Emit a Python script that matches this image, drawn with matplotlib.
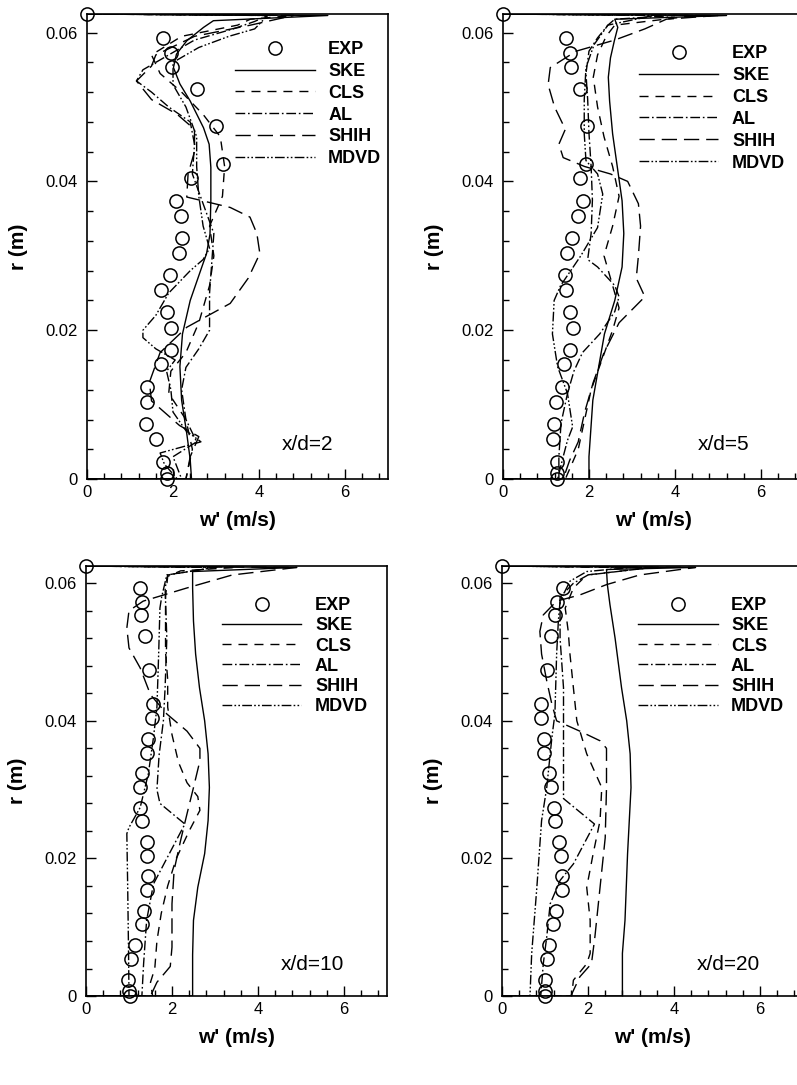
import matplotlib
matplotlib.use("Agg")
from matplotlib import pyplot as plt
from matplotlib.ticker import MultipleLocator, FormatStrFormatter

plt.rcParams['font.family'] = ['Liberation Sans', 'DejaVu Sans']
plt.rcParams['lines.scale_dashes'] = False

# radial stations of the measurements (shared by all four stations)
r_exp = [0.0625, 0.0593, 0.0573, 0.0554, 0.0524, 0.0474, 0.0424, 0.0404, 0.0373, 0.0353,
         0.0324, 0.0304, 0.0274, 0.0254, 0.0224, 0.0203, 0.0174, 0.0154, 0.0124, 0.0104,
         0.0074, 0.0054, 0.0023, 0.0008, 0.0]
w_exp_2 = [0, 1.77, 1.95, 1.98, 2.55, 3.00, 3.17, 2.41, 2.07, 2.18, 2.22, 2.14, 1.93, 1.72,
           1.85, 1.95, 1.95, 1.71, 1.39, 1.40, 1.37, 1.60, 1.77, 1.85, 1.85]
w_exp_5 = [0, 1.47, 1.56, 1.58, 1.79, 1.96, 1.93, 1.79, 1.85, 1.74, 1.60, 1.48, 1.44, 1.47,
           1.56, 1.63, 1.56, 1.42, 1.37, 1.23, 1.19, 1.17, 1.26, 1.26, 1.26]
w_exp_10 = [0, 1.26, 1.30, 1.27, 1.37, 1.47, 1.57, 1.54, 1.45, 1.41, 1.30, 1.26, 1.26, 1.31,
            1.41, 1.41, 1.45, 1.41, 1.34, 1.30, 1.14, 1.04, 0.98, 1.00, 1.02]
w_exp_20 = [0, 1.42, 1.27, 1.24, 1.15, 1.04, 0.91, 0.91, 0.98, 0.98, 1.09, 1.13, 1.21, 1.24,
            1.33, 1.37, 1.40, 1.39, 1.25, 1.19, 1.09, 1.04, 1.01, 1.00, 1.00]

# x/d = 2
r_ske_2 = [0, 0, 0.0026, 0.0061, 0.0106, 0.0151, 0.0195, 0.0240, 0.0285, 0.0303, 0.0329, 0.0374,
           0.0419, 0.0450, 0.0472, 0.0508, 0.0531, 0.0553, 0.0571, 0.0589, 0.0607, 0.0616, 0.0623, 0.0625]
w_ske_2 = [0, 2.43, 2.40, 2.32, 2.20, 2.16, 2.22, 2.40, 2.67, 2.78, 2.86, 2.88,
           2.88, 2.84, 2.71, 2.40, 2.16, 2.01, 2.08, 2.32, 2.71, 2.94, 5.60, 0]
r_cls_2 = [0, 0, 0.0040, 0.0080, 0.0115, 0.0145, 0.0170, 0.0210, 0.0260, 0.0300, 0.0340, 0.0380,
           0.0420, 0.0460, 0.0490, 0.0520, 0.0545, 0.0570, 0.0595, 0.0610, 0.0618, 0.0623, 0.0625]
w_cls_2 = [0, 2.30, 2.45, 2.30, 1.90, 1.95, 2.30, 2.60, 2.85, 2.95, 2.85, 3.15,
           3.20, 3.10, 2.70, 2.20, 1.70, 1.50, 2.20, 3.50, 3.80, 4.80, 0]
r_al_2 = [0, 0, 0.0030, 0.0050, 0.0080, 0.0120, 0.0150, 0.0175, 0.0200, 0.0250, 0.0290, 0.0330,
          0.0370, 0.0410, 0.0450, 0.0480, 0.0500, 0.0520, 0.0535, 0.0550, 0.0570, 0.0590, 0.0605,
          0.0615, 0.0623, 0.0625]
w_al_2 = [0, 2.20, 2.00, 2.55, 2.30, 2.20, 2.30, 2.60, 2.85, 2.85, 2.90, 2.95,
          2.70, 2.45, 2.50, 2.40, 1.90, 1.50, 1.15, 1.30, 1.90, 2.50, 3.40,
          3.90, 4.20, 0]
r_shih_2 = [0, 0, 0.0030, 0.0057, 0.0072, 0.0105, 0.0130, 0.0170, 0.0204, 0.0236, 0.0270, 0.0303,
            0.0330, 0.0352, 0.0365, 0.0379, 0.0410, 0.0440, 0.0470, 0.0490, 0.0510, 0.0535, 0.0555,
            0.0570, 0.0595, 0.0610, 0.0623, 0.0625]
w_shih_2 = [0, 2.30, 2.40, 2.60, 2.15, 1.50, 1.45, 1.70, 2.32, 3.33, 3.75, 4.02,
            3.95, 3.79, 3.33, 2.32, 2.35, 2.50, 2.50, 2.10, 1.50, 1.15, 1.50,
            1.60, 2.50, 3.80, 4.80, 0]
r_mdvd_2 = [0, 0, 0.0020, 0.0035, 0.0050, 0.0065, 0.0090, 0.0120, 0.0145, 0.0160, 0.0175, 0.0190,
            0.0200, 0.0220, 0.0250, 0.0280, 0.0295, 0.0310, 0.0340, 0.0380, 0.0420, 0.0460, 0.0500,
            0.0530, 0.0560, 0.0580, 0.0595, 0.0605, 0.0623, 0.0625]
w_mdvd_2 = [0, 2.10, 1.80, 1.70, 2.65, 2.30, 2.00, 1.95, 1.85, 2.05, 1.60, 1.30,
            1.30, 1.60, 1.90, 2.40, 2.70, 2.85, 2.70, 2.60, 2.55, 2.55, 2.30,
            2.00, 2.00, 2.60, 3.30, 3.90, 4.20, 0]

# x/d = 5
r_ske_5 = [0, 0, 0.0030, 0.0106, 0.0195, 0.0240, 0.0285, 0.0330, 0.0374, 0.0419, 0.0464, 0.0508,
           0.0540, 0.0566, 0.0589, 0.0607, 0.0618, 0.0623, 0.0625]
w_ske_5 = [0, 2.00, 2.00, 2.09, 2.36, 2.60, 2.77, 2.81, 2.77, 2.66, 2.55, 2.48,
           2.45, 2.50, 2.59, 2.67, 2.60, 5.20, 0]
r_cls_5 = [0, 0, 0.0040, 0.0080, 0.0120, 0.0160, 0.0200, 0.0230, 0.0260, 0.0300, 0.0340, 0.0380,
           0.0420, 0.0460, 0.0500, 0.0540, 0.0570, 0.0595, 0.0610, 0.0623, 0.0625]
w_cls_5 = [0, 1.45, 1.75, 1.90, 2.05, 2.30, 2.55, 2.70, 2.55, 2.35, 2.55, 2.70,
           2.55, 2.35, 2.20, 2.10, 2.20, 2.40, 2.60, 4.50, 0]
r_al_5 = [0, 0, 0.0030, 0.0075, 0.0115, 0.0145, 0.0170, 0.0195, 0.0225, 0.0245, 0.0260, 0.0285,
          0.0295, 0.0330, 0.0375, 0.0420, 0.0465, 0.0510, 0.0545, 0.0575, 0.0593, 0.0610, 0.0618,
          0.0623, 0.0625]
w_al_5 = [0, 1.30, 1.30, 1.35, 1.50, 1.65, 1.85, 2.25, 2.60, 2.70, 2.60, 2.20,
          1.97, 2.05, 2.08, 2.05, 2.00, 1.97, 1.93, 2.00, 2.20, 2.44, 2.60,
          4.00, 0]
r_shih_5 = [0, 0, 0.0025, 0.0050, 0.0090, 0.0130, 0.0170, 0.0210, 0.0245, 0.0270, 0.0300, 0.0340,
            0.0370, 0.0400, 0.0410, 0.0420, 0.0432, 0.0450, 0.0470, 0.0500, 0.0530, 0.0553, 0.0575,
            0.0590, 0.0605, 0.0618, 0.0623, 0.0625]
w_shih_5 = [0, 1.40, 1.55, 1.75, 1.90, 2.10, 2.35, 2.70, 3.30, 3.10, 3.15, 3.20,
            3.15, 2.90, 2.50, 1.90, 1.40, 1.30, 1.45, 1.20, 1.05, 1.10, 1.70,
            2.60, 3.30, 3.80, 5.00, 0]
r_mdvd_5 = [0, 0, 0.0030, 0.0052, 0.0070, 0.0115, 0.0151, 0.0195, 0.0240, 0.0260, 0.0300, 0.0338,
            0.0383, 0.0410, 0.0428, 0.0464, 0.0510, 0.0553, 0.0584, 0.0610, 0.0623, 0.0625]
w_mdvd_5 = [0, 1.27, 1.40, 1.50, 1.62, 1.50, 1.27, 1.15, 1.19, 1.34, 1.81, 2.20,
            2.32, 2.20, 1.93, 1.89, 1.89, 1.93, 2.12, 2.44, 3.50, 0]

# x/d = 10
r_ske_10 = [0, 0, 0.0060, 0.0110, 0.0158, 0.0207, 0.0255, 0.0303, 0.0352, 0.0400, 0.0448, 0.0497,
            0.0545, 0.0593, 0.0617, 0.0623, 0.0625]
w_ske_10 = [0, 2.48, 2.48, 2.50, 2.60, 2.76, 2.84, 2.87, 2.84, 2.76, 2.64, 2.55,
            2.50, 2.48, 2.48, 4.90, 0]
r_cls_10 = [0, 0, 0.0020, 0.0040, 0.0080, 0.0120, 0.0160, 0.0200, 0.0240, 0.0270, 0.0290, 0.0310,
            0.0340, 0.0380, 0.0420, 0.0460, 0.0500, 0.0540, 0.0580, 0.0610, 0.0618, 0.0623, 0.0625]
w_cls_10 = [0, 1.55, 1.50, 1.60, 1.65, 1.75, 1.90, 2.10, 2.40, 2.65, 2.60, 2.35,
            2.15, 2.00, 1.90, 1.90, 1.85, 1.85, 1.85, 1.90, 2.20, 3.50, 0]
r_al_10 = [0, 0, 0.0047, 0.0110, 0.0163, 0.0200, 0.0250, 0.0280, 0.0300, 0.0350, 0.0400, 0.0448,
           0.0520, 0.0593, 0.0612, 0.0623, 0.0625]
w_al_10 = [0, 1.30, 1.34, 1.41, 1.57, 1.88, 2.30, 1.72, 1.65, 1.70, 1.80, 1.84,
           1.88, 1.84, 1.90, 3.00, 0]
r_shih_10 = [0, 0, 0.0020, 0.0043, 0.0071, 0.0134, 0.0183, 0.0226, 0.0265, 0.0303, 0.0342, 0.0360,
             0.0385, 0.0410, 0.0438, 0.0477, 0.0506, 0.0535, 0.0560, 0.0574, 0.0593, 0.0612,
             0.0623, 0.0625]
w_shih_10 = [0, 1.50, 1.65, 1.96, 2.00, 2.00, 2.05, 2.20, 2.35, 2.50, 2.65, 2.65,
             2.35, 1.88, 1.50, 1.26, 1.00, 0.95, 1.00, 1.33, 2.34, 3.40,
             4.90, 0]
r_mdvd_10 = [0, 0, 0.0062, 0.0158, 0.0236, 0.0245, 0.0274, 0.0323, 0.0376, 0.0420, 0.0497, 0.0564,
             0.0580, 0.0612, 0.0623, 0.0625]
w_mdvd_10 = [0, 1.00, 0.99, 0.97, 0.95, 1.00, 1.26, 1.45, 1.57, 1.65, 1.69, 1.72,
             1.76, 1.88, 3.00, 0]

# x/d = 20
r_ske_20 = [0, 0, 0.0062, 0.0110, 0.0207, 0.0303, 0.0352, 0.0400, 0.0448, 0.0520, 0.0569, 0.0598,
            0.0620, 0.0623, 0.0625]
w_ske_20 = [0, 2.80, 2.80, 2.86, 2.92, 3.00, 2.98, 2.90, 2.78, 2.63, 2.51, 2.45,
            2.43, 4.50, 0]
r_cls_20 = [0, 0, 0.0023, 0.0047, 0.0062, 0.0110, 0.0158, 0.0207, 0.0255, 0.0303, 0.0352, 0.0400,
            0.0448, 0.0497, 0.0530, 0.0564, 0.0593, 0.0612, 0.0623, 0.0625]
w_cls_20 = [0, 1.62, 1.66, 1.97, 2.05, 2.05, 1.97, 2.12, 2.28, 2.32, 1.97, 1.74,
            1.66, 1.58, 1.54, 1.47, 1.66, 1.97, 3.50, 0]
r_al_20 = [0, 0, 0.0047, 0.0086, 0.0134, 0.0168, 0.0192, 0.0250, 0.0287, 0.0352, 0.0448, 0.0520,
           0.0580, 0.0600, 0.0612, 0.0623, 0.0625]
w_al_20 = [0, 0.90, 0.96, 1.04, 1.12, 1.35, 1.66, 2.15, 1.43, 1.43, 1.43, 1.35,
           1.35, 1.66, 2.00, 3.50, 0]
r_shih_20 = [0, 0, 0.0028, 0.0047, 0.0086, 0.0158, 0.0230, 0.0303, 0.0360, 0.0371, 0.0385, 0.0400,
             0.0424, 0.0458, 0.0497, 0.0530, 0.0554, 0.0574, 0.0583, 0.0598, 0.0612, 0.0623, 0.0625]
w_shih_20 = [0, 1.60, 1.81, 2.08, 2.16, 2.28, 2.40, 2.43, 2.43, 2.28, 1.81, 1.27,
             1.16, 1.04, 0.92, 0.88, 0.96, 1.27, 1.81, 2.43, 3.20, 4.50, 0]
r_mdvd_20 = [0, 0, 0.0062, 0.0158, 0.0255, 0.0303, 0.0376, 0.0410, 0.0497, 0.0545, 0.0574, 0.0603,
             0.0617, 0.0623, 0.0625]
w_mdvd_20 = [0, 0.65, 0.69, 0.81, 0.92, 1.04, 1.16, 1.23, 1.27, 1.31, 1.35, 1.58,
             1.97, 3.00, 0]

models = ['SKE', 'CLS', 'AL', 'SHIH', 'MDVD']
styles = {
    'SKE': '-',
    'CLS': (0, (6.5, 5)),
    'AL': (0, (7, 2, 1.2, 2)),
    'SHIH': (0, (11, 5)),
    'MDVD': (0, (7, 1.6, 1.2, 1.6, 1.2, 1.6)),
}

panels = [
    # rect, label, exp, curves, legend anchor, legend row spacing
    ([0.1092, 0.5585, 0.3776, 0.4286], 'x/d=2', w_exp_2,
     [(w_ske_2, r_ske_2), (w_cls_2, r_cls_2), (w_al_2, r_al_2), (w_shih_2, r_shih_2), (w_mdvd_2, r_mdvd_2)],
     (0.492, 0.942), 0.27),
    ([0.6311, 0.5585, 0.3776, 0.4286], 'x/d=5', w_exp_5,
     [(w_ske_5, r_ske_5), (w_cls_5, r_cls_5), (w_al_5, r_al_5), (w_shih_5, r_shih_5), (w_mdvd_5, r_mdvd_5)],
     (0.452, 0.933), 0.27),
    ([0.1079, 0.0820, 0.3776, 0.3963], 'x/d=10', w_exp_10,
     [(w_ske_10, r_ske_10), (w_cls_10, r_cls_10), (w_al_10, r_al_10), (w_shih_10, r_shih_10), (w_mdvd_10, r_mdvd_10)],
     (0.452, 0.928), 0.18),
    ([0.6299, 0.0820, 0.3776, 0.3963], 'x/d=20', w_exp_20,
     [(w_ske_20, r_ske_20), (w_cls_20, r_cls_20), (w_al_20, r_al_20), (w_shih_20, r_shih_20), (w_mdvd_20, r_mdvd_20)],
     (0.452, 0.928), 0.18),
]

fig = plt.figure(figsize=(7.97, 10.85), dpi=100)

for rect, label, w_exp, curves, anchor, spacing in panels:
    ax = fig.add_axes(rect)
    ax.plot(w_exp, r_exp, linestyle='none', marker='o', markersize=9.5,
            markerfacecolor='none', markeredgecolor='black', markeredgewidth=1.1,
            clip_on=False, label='EXP', zorder=3)
    for name, (w, r) in zip(models, curves):
        ax.plot(w, r, color='black', linewidth=1.0, linestyle=styles[name], label=name)

    ax.set_xlim(0, 7)
    ax.set_ylim(0, 0.0625)
    ax.xaxis.set_major_locator(MultipleLocator(2))
    ax.xaxis.set_minor_locator(MultipleLocator(0.4))
    ax.yaxis.set_major_locator(MultipleLocator(0.02))
    ax.yaxis.set_minor_locator(MultipleLocator(0.004))
    ax.xaxis.set_major_formatter(FormatStrFormatter('%g'))
    ax.yaxis.set_major_formatter(FormatStrFormatter('%g'))
    ax.tick_params(which='both', direction='in', top=False, right=False, labelsize=12, width=1.0)
    ax.tick_params(which='major', length=7)
    ax.tick_params(which='minor', length=4)
    ax.tick_params(axis='x', which='major', pad=4)
    ax.tick_params(axis='y', which='major', pad=7)
    for sp in ax.spines.values():
        sp.set_linewidth(1.2)

    ax.set_xlabel("w' (m/s)", fontsize=15, fontweight='bold', labelpad=8)
    ax.set_ylabel('r (m)', fontsize=15, fontweight='bold', labelpad=12)
    ax.text(4.53, 0.0046, label, fontsize=15, va='center', ha='left')

    ax.legend(loc='upper left', bbox_to_anchor=anchor, frameon=False, borderpad=0,
              borderaxespad=0, handlelength=4.4, handletextpad=0.75, labelspacing=spacing,
              prop={'weight': 'bold', 'size': 13})

fig.savefig('out.png', dpi=100)
